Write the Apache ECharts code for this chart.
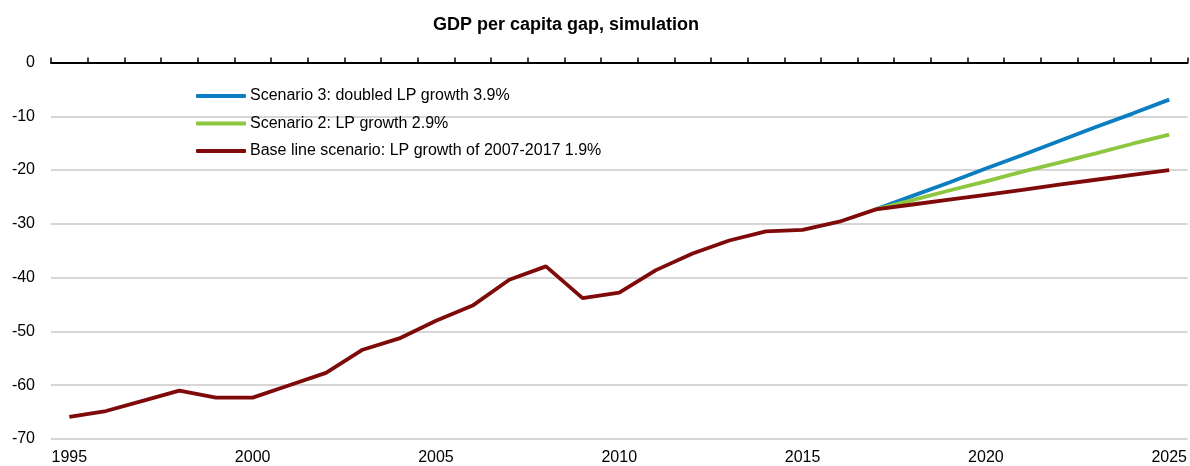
<!DOCTYPE html>
<html>
<head>
<meta charset="utf-8">
<script src="https://cdn.jsdelivr.net/npm/echarts@6/dist/echarts.min.js"></script>
<style>
html,body{margin:0;padding:0;background:#fff;}
#chart{width:1190px;height:466px;}
</style>
</head>
<body>
<div id="chart"></div>
<script>
const years = ['1995','1996','1997','1998','1999','2000','2001','2002','2003','2004','2005','2006','2007','2008','2009','2010','2011','2012','2013','2014','2015','2016','2017','2018','2019','2020','2021','2022','2023','2024','2025'];
const baseLine = [-65.9,-64.8,-62.9,-61.0,-62.3,-62.3,-60.0,-57.7,-53.4,-51.3,-48.0,-45.2,-40.4,-37.9,-43.8,-42.8,-38.6,-35.5,-33.1,-31.4,-31.1,-29.6,-27.3,-26.4,-25.5,-24.6,-23.7,-22.7,-21.8,-20.9,-20.0];
const scenario2 = [null,null,null,null,null,null,null,null,null,null,null,null,null,null,null,null,null,null,null,null,null,null,-27.3,-25.6,-23.8,-22.1,-20.3,-18.6,-16.9,-15.1,-13.4];
const scenario3 = [null,null,null,null,null,null,null,null,null,null,null,null,null,null,null,null,null,null,null,null,null,null,-27.3,-24.8,-22.3,-19.7,-17.2,-14.6,-12.0,-9.5,-6.9];
const seriesNames = ['Scenario 3: doubled LP growth 3.9%','Scenario 2: LP growth 2.9%','Base line scenario: LP growth of 2007-2017 1.9%'];
const titleText = 'GDP per capita gap, simulation';

const chart = echarts.init(document.getElementById('chart'), null, {renderer:'canvas'});
const font = 'Liberation Sans, Arial, sans-serif';
chart.setOption({
  animation:false,
  backgroundColor:'#fff',
  title:{text:titleText,left:428,top:11,textStyle:{fontFamily:font,fontSize:18,fontWeight:'bold',color:'#000'}},
  legend:{
    data:seriesNames, orient:'vertical', left:191, top:83, itemGap:11.5,
    itemWidth:50, itemHeight:4, icon:'roundRect',
    textStyle:{fontFamily:font,fontSize:16,color:'#000',padding:[0,0,0,-1]}
  },
  grid:{left:51,right:2,top:62.5,bottom:25,containLabel:false},
  xAxis:[
    {type:'category',data:years,position:'bottom',boundaryGap:true,
     axisLine:{show:false},axisTick:{show:false},
     axisLabel:{interval:4,fontFamily:font,fontSize:16,color:'#000',margin:11}},
    {type:'category',data:years,position:'top',boundaryGap:true,
     axisLine:{show:true,onZero:false,lineStyle:{color:'#000',width:2}},
     axisTick:{show:true,interval:0,length:5,lineStyle:{color:'#000',width:1.5}},
     axisLabel:{show:false}}
  ],
  yAxis:{type:'value',min:-70,max:0,interval:10,
    axisLine:{show:false},axisTick:{show:false},
    axisLabel:{fontFamily:font,fontSize:16,color:'#000',margin:16},
    splitLine:{show:true,lineStyle:{color:'#c8c8c8',width:1.5}}},
  series:[
    {name:seriesNames[0],type:'line',data:scenario3,symbol:'none',connectNulls:false,
     lineStyle:{color:'#0b7dc1',width:3.8},itemStyle:{color:'#0b7dc1'}},
    {name:seriesNames[1],type:'line',data:scenario2,symbol:'none',
     lineStyle:{color:'#8dc63f',width:3.8},itemStyle:{color:'#8dc63f'}},
    {name:seriesNames[2],type:'line',data:baseLine,symbol:'none',
     lineStyle:{color:'#7f0a0a',width:3.8},itemStyle:{color:'#7f0a0a'}}
  ]
});
</script>
</body>
</html>
